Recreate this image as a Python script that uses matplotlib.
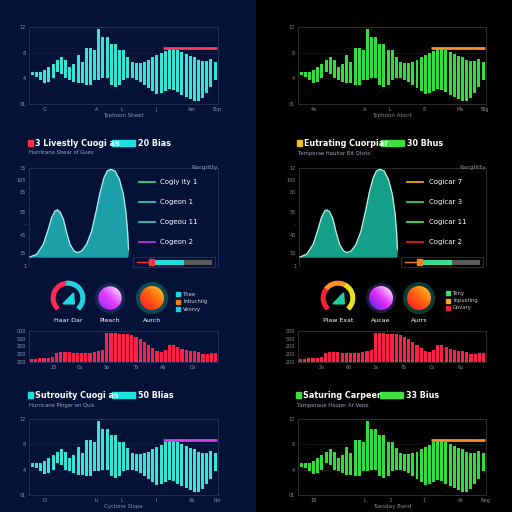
import numpy as np
import matplotlib
matplotlib.use("Agg")
from matplotlib import pyplot as plt
from matplotlib.patches import Rectangle, Circle, Wedge, Polygon
from matplotlib.colors import LinearSegmentedColormap

# ---- data ----
range_hi = [5.0, 5.0, 5.0, 5.3, 5.8, 6.3, 6.8, 7.3, 6.8, 5.8, 6.3, 7.6, 6.6, 8.7, 8.7,
            8.4, 11.7, 10.5, 10.5, 9.4, 9.4, 8.4, 8.4, 7.4, 6.6, 6.4, 6.4, 6.6, 6.8, 7.3,
            7.6, 7.9, 8.3, 8.5, 8.5, 8.4, 8.1, 7.8, 7.5, 7.3, 6.8, 6.7, 6.7, 7.0, 6.6]
range_lo = [4.5, 4.2, 3.8, 3.3, 3.5, 4.0, 5.0, 4.7, 4.0, 3.8, 3.5, 3.2, 3.2, 3.0, 3.0,
            3.8, 3.8, 4.0, 4.0, 3.0, 2.7, 3.0, 3.8, 4.0, 4.0, 3.8, 3.5, 3.0, 2.5, 2.0,
            1.6, 1.7, 2.0, 2.3, 2.2, 1.8, 1.4, 1.1, 0.8, 0.4, 0.4, 0.9, 1.7, 2.6, 3.8]
target_level = 8.75
target_start = 32
range_yticks = [0, 4, 8, 12]
range_ylabels = ["01", "4", "8", "12"]
range_xpos = [3.0, 15.4, 21.5, 29.8, 38.5, 44.5]
top_left_xlabels = ["G", "A", "L", "J", "Am", "Bcp"]
top_right_xlabels = ["4b", "A", "L", "8", "Ma", "Btg"]
bot_left_xlabels = ["Ci", "Li", "L", "I", "Ab", "Plo"]
bot_right_xlabels = ["1B", "L", "3", "1", "Ar", "Neg"]

area_x = [0.5, 4.1, 7.6, 10.2, 12.0, 13.8, 15.0, 16.4, 18.2, 19.9, 21.7, 23.8, 25.6, 27.9,
          30.5, 33.2, 35.8, 37.6, 39.7, 41.4, 43.2, 45.5, 47.8, 49.9, 51.3, 52.2, 52.6, 52.2]
area_y = [0, 3, 14.2, 31.1, 44.2, 51.7, 52.8, 50.6, 42.3, 27.3, 14.2, 6.7, 4.9, 6.7,
          14.2, 29.2, 53.6, 72.3, 89.1, 96.6, 98.5, 96.6, 87.3, 70.4, 49.8, 27.3, 8.6, 0]
area_yticks = [99.6, 86.5, 73, 50.6, 36.7, 24.3, 4.1, -10.1]
area_ylabels_l = ["35", "105", "85", "55", "-", "45", "35", "1"]
area_ylabels_r = ["12", "100", "80", "55", "-", "40", "50", "1"]
legend_l = ["Cogiy ity 1", "Cogeon 1", "Cogeou 11", "Cogeon 2"]
legend_r = ["Cogicar 7", "Cogicar 3", "Cogicar 11", "Cogicar 2"]
progress_done = 0.62

red_bars = [11, 11, 12, 12, 13, 16, 30, 31, 31, 31, 30, 30, 30, 30, 30, 31, 36, 40, 95, 94,
            93, 91, 90, 89, 87, 82, 74, 66, 56, 46, 36, 31, 38, 56, 54, 49, 43, 40, 37, 34,
            31, 27, 25, 28, 30]
red_yticks = [0, 25, 50, 75, 100]
red_ylabels = ["200", "200", "200", "500", "000"]
red_xpos = [5.2, 11.7, 18.0, 24.8, 31.5, 38.5]
red_xlabels_l = ["25", "Co", "So", "To", "Ab", "Co"]
red_xlabels_r = ["2o", "60", "2a", "7b", "Co", "Ro"]

gauge_names_l = ["Haar Dar", "Pleach", "Aurch"]
gauge_names_r = ["Plaw Exat", "Aucae", "Aurrs"]
key_l = ["Thee", "Inbuchilg", "Veorvy"]
key_r = ["Tony", "Inpusting", "Govary"]

NAVY = "#041238"

fig = plt.figure(figsize=(5.12, 5.12), dpi=100)
fig.patch.set_facecolor(NAVY)
fig.add_artist(Rectangle((0.5, 0), 0.5, 1, transform=fig.transFigure, color="black", zorder=0))


def px(x0, y0, x1, y1):
    return [x0 / 512, 1 - y1 / 512, (x1 - x0) / 512, (y1 - y0) / 512]


def ty(y):
    return 1 - y / 512


def style(ax, spine, tick):
    ax.set_facecolor("none")
    for s in ax.spines.values():
        s.set_color(spine)
        s.set_linewidth(0.6)
    ax.tick_params(colors=tick, labelsize=3.5, length=0, pad=2)


def range_chart(rect, bar_col, line_col, xlabels, xlabel, spine, tick):
    ax = fig.add_axes(px(*rect))
    style(ax, spine, tick)
    n = len(range_hi)
    x = np.arange(n)
    hi = np.array(range_hi)
    lo = np.array(range_lo)
    ax.bar(x, hi - lo, bottom=lo, width=0.72, color=bar_col, zorder=2)
    ax.hlines(target_level, target_start - 0.5, n - 0.5, color=line_col, lw=2, zorder=3)
    ax.set_xlim(-0.8, n - 0.3)
    ax.set_ylim(0, 12)
    ax.set_yticks(range_yticks)
    ax.set_yticklabels(range_ylabels)
    ax.set_xticks(range_xpos)
    ax.set_xticklabels(xlabels)
    ax.grid(axis="y", color=spine, lw=0.4, alpha=0.6)
    ax.set_xlabel(xlabel, color=tick, fontsize=4, labelpad=1)
    return ax


def area_chart(rect, fill_col, edge_col, ylabels, names, line_cols, spine, tick, bar_cols):
    ax = fig.add_axes(px(*rect))
    style(ax, spine, tick)
    ax.fill(area_x, area_y, color=fill_col, zorder=2)
    ax.plot(area_x[:-1], area_y[:-1], color=edge_col, lw=0.8, zorder=3)
    ax.set_xlim(0, 100)
    ax.set_ylim(-10, 100)
    ax.set_xticks([])
    ax.set_yticks(area_yticks)
    ax.set_yticklabels(ylabels)
    ax.spines["bottom"].set_visible(False)
    ax.text(1.0, 1.01, "Rarglitty", transform=ax.transAxes, ha="right", va="center",
            color=tick, fontsize=4.5)
    for i, (nm, c) in enumerate(zip(names, line_cols)):
        yy = 0.86 - i * 0.205
        ax.plot([0.58, 0.665], [yy, yy], transform=ax.transAxes, color=c, lw=1.3)
        ax.text(0.695, yy, nm, transform=ax.transAxes, color="white", fontsize=5, va="center")
    # progress widget
    pb = fig.add_axes(px(rect[2] - 85, 257, rect[2] - 3, 267))
    pb.set_facecolor("none")
    for s in pb.spines.values():
        s.set_color(spine)
        s.set_linewidth(0.6)
    pb.set_xticks([])
    pb.set_yticks([])
    pb.set_xlim(0, 1)
    pb.set_ylim(0, 1)
    pb.plot([0.05, 0.22], [0.5, 0.5], color=bar_cols[0], lw=1)
    pb.add_patch(Rectangle((0.2, 0.22), 0.05, 0.56, color=bar_cols[0]))
    pb.barh(0.5, progress_done - 0.27, left=0.27, height=0.5, color=bar_cols[1])
    pb.barh(0.5, 0.96 - progress_done, left=progress_done, height=0.5, color="#5a5a5a")
    return ax


def red_chart(rect, xlabels, spine, tick):
    ax = fig.add_axes(px(*rect))
    style(ax, spine, tick)
    x = np.arange(len(red_bars))
    ax.bar(x, red_bars, width=0.75, color="#ff1f4a", zorder=2)
    ax.set_xlim(-0.6, len(red_bars) - 0.4)
    ax.set_ylim(0, 100)
    ax.set_yticks(red_yticks)
    ax.set_yticklabels(red_ylabels)
    ax.set_xticks(red_xpos)
    ax.set_xticklabels(xlabels)
    return ax


def gauge(cx, cy, arcs, tri_col):
    ax = fig.add_axes(px(cx - 20, cy - 20, cx + 20, cy + 20))
    ax.set_xlim(-1.2, 1.2)
    ax.set_ylim(-1.2, 1.2)
    ax.set_aspect("equal")
    ax.axis("off")
    for t1, t2, c in arcs:
        ax.add_patch(Wedge((0, 0), 1.0, t1, t2, width=0.22, color=c))
    ax.add_patch(Polygon([(-0.3, -0.35), (0.38, -0.35), (0.33, 0.3)], color=tri_col))


def orb(cx, cy, ring_col, ring_r, disc_r, cols):
    ax = fig.add_axes(px(cx - 20, cy - 20, cx + 20, cy + 20))
    ax.add_patch(Circle((0, 0), ring_r, color=ring_col, zorder=1))
    g = np.linspace(0, 1, 80)
    G = (g[None, :] + g[:, None]) / 2
    cmap = LinearSegmentedColormap.from_list("o", cols)
    im = ax.imshow(G, cmap=cmap, extent=[-disc_r, disc_r, -disc_r, disc_r],
                   origin="lower", zorder=3)
    im.set_clip_path(Circle((0, 0), disc_r, transform=ax.transData))
    ax.set_xlim(-1.2, 1.2)
    ax.set_ylim(-1.2, 1.2)
    ax.set_aspect("equal")
    ax.axis("off")


def header(x0, y, sq_col, title, bar_col, tag, sub):
    fig.add_artist(Rectangle((x0 / 512, ty(y + 3)), 5 / 512, 6 / 512,
                             transform=fig.transFigure, color=sq_col))
    fig.text((x0 + 7) / 512, ty(y), title, color="white", fontsize=5.8,
             fontweight="bold", va="center")
    fig.add_artist(Rectangle(((x0 + 84) / 512, ty(y + 3)), 23 / 512, 6 / 512,
                             transform=fig.transFigure, color=bar_col))
    fig.text((x0 + 110) / 512, ty(y), tag, color="white", fontsize=5.8,
             fontweight="bold", va="center")
    fig.text((x0 + 1) / 512, ty(y + 10), sub, color="#9aa6bb", fontsize=3.8, va="center")


def key(x, y0, cols, names, tc):
    for i, (c, nm) in enumerate(zip(cols, names)):
        yy = y0 + i * 7.5
        fig.add_artist(Rectangle((x / 512, ty(yy + 2)), 4 / 512, 4 / 512,
                                 transform=fig.transFigure, color=c))
        fig.text((x + 7) / 512, ty(yy), nm, color=tc, fontsize=3.8, va="center")


# ---- left panel (navy) ----
LS, LT = "#24345c", "#8a98b4"
range_chart((29, 27, 218, 104), "#33e6d8", "#ff3a60", top_left_xlabels, "Typhoon Sheet", LS, LT)
header(28, 143, "#ff3040", "3 Livestly Cuogi as", "#1ee0e0", "20 Bias", "Hurricane Shear of Gues")
area_chart((29, 168, 218, 266), "#1c9fa8", "#bfeff0", area_ylabels_l, legend_l,
           ["#34d67a", "#2ec4c4", "#2ec4c4", "#c030e0"], LS, LT, ["#ff3040", "#1ee0e0"])
gauge(68, 298, [(95, 225, "#ff2a50"), (-45, 95, "#20d0e0")], "#20d8e0")
orb(110, 298, "#16284f", 0.86, 0.7, ["#a020ff", "#e040ff", "#ffffff"])
orb(152, 298, "#0c4a52", 0.92, 0.72, ["#ff1030", "#ff6010", "#ffd020"])
for cx, nm in zip([68, 110, 152], gauge_names_l):
    fig.text(cx / 512, ty(320), nm, color="white", fontsize=4.5, ha="center", va="center")
key(176, 294, ["#20d8d8", "#f08020", "#30c8e0"], key_l, "#c8d0e0")
red_chart((29, 331, 218, 362), red_xlabels_l, LS, LT)
header(28, 395, "#1ee0e0", "Sutrouity Cuogi as", "#1ee0e0", "50 Blias", "Hurricane Pinger on Quis")
range_chart((29, 419, 218, 495), "#33e6d8", "#d040e0", bot_left_xlabels, "Cyclone Slope", LS, LT)

# ---- right panel (black) ----
RS, RT = "#333333", "#8a8a8a"
range_chart((298, 27, 486, 104), "#2fe03a", "#ff8c30", top_right_xlabels, "Typhoon Abort", RS, RT)
header(297, 143, "#f0c020", "Eutrating Cuorpiar", "#3de040", "30 Bhus", "Temperae Hauhar Bit Qisno")
area_chart((299, 168, 486, 266), "#14a088", "#cfeee6", area_ylabels_r, legend_r,
           ["#f0a020", "#30d070", "#40e060", "#e02020"], RS, RT, ["#f08020", "#30e090"])
gauge(338, 298, [(140, 225, "#ff2030"), (60, 140, "#ff9020"), (-45, 60, "#e8e020")], "#20d0a0")
orb(381, 298, "#1a1a3a", 0.86, 0.72, ["#5020e0", "#e030ff", "#ffffff"])
orb(419, 298, "#0a3a30", 0.92, 0.72, ["#ff1030", "#ff6010", "#ffd020"])
for cx, nm in zip([338, 381, 419], gauge_names_r):
    fig.text(cx / 512, ty(320), nm, color="white", fontsize=4.5, ha="center", va="center")
key(446, 293, ["#40e070", "#f0b020", "#f02040"], key_r, "#c8c8c8")
red_chart((298, 331, 486, 362), red_xlabels_r, RS, RT)
header(296, 395, "#3de040", "Saturing Carpeer", "#3de040", "33 Bius", "Tamperaue Haurer Ar Veno")
range_chart((298, 419, 486, 495), "#2fe03a", "#ff8c30", bot_right_xlabels, "Tuesday Band", RS, RT)

fig.savefig("out.png", dpi=100, facecolor=fig.get_facecolor())
